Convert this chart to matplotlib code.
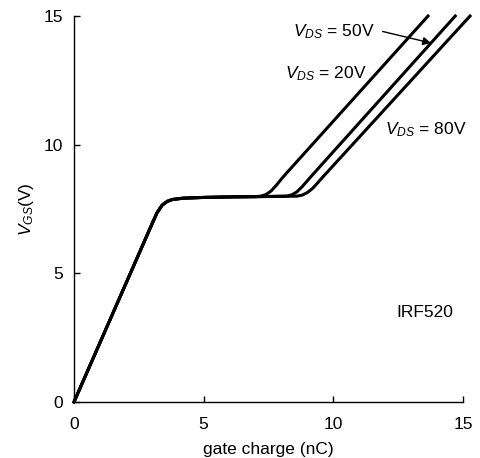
import matplotlib
matplotlib.use("Agg")
import matplotlib.pyplot as plt

plt.rcParams["font.family"] = ["Liberation Sans", "DejaVu Sans"]
plt.rcParams["mathtext.fontset"] = "custom"
plt.rcParams["mathtext.it"] = "Liberation Sans:italic"
plt.rcParams["mathtext.rm"] = "Liberation Sans"

# gate charge (nC) vs V_GS (V)
rise_q = [0.0, 1.0, 2.0, 3.0, 3.2, 3.4, 3.6, 3.8, 4.2, 5.0, 6.0, 7.0]
rise_v = [0.0, 2.3, 4.6, 6.9, 7.35, 7.65, 7.8, 7.87, 7.92, 7.95, 7.97, 7.98]

q_20v = rise_q + [7.2, 7.4, 7.6, 7.8, 8.0, 8.2, 13.65]
v_20v = rise_v + [8.0, 8.06, 8.2, 8.42, 8.67, 8.9, 15.0]

q_50v = rise_q + [8.2, 8.4, 8.6, 8.8, 9.0, 9.2, 14.7]
v_50v = rise_v + [8.0, 8.05, 8.17, 8.37, 8.6, 8.83, 15.0]

q_80v = rise_q + [8.6, 8.8, 9.0, 9.2, 9.4, 9.6, 15.27]
v_80v = rise_v + [8.0, 8.04, 8.14, 8.3, 8.52, 8.75, 15.0]

ticks = [0, 5, 10, 15]

fig = plt.figure(figsize=(4.81, 4.58), dpi=100)
ax = fig.add_axes([0.1538, 0.1223, 0.8088, 0.8427])

for q, v in [(q_20v, v_20v), (q_50v, v_50v), (q_80v, v_80v)]:
    # the 80V curve runs slightly past the right edge in the original
    ax.plot(q, v, color="black", lw=2.2, solid_joinstyle="round", clip_on=False)

ax.set_xlim(0, 15)
ax.set_ylim(0, 15)
ax.set_xticks(ticks)
ax.set_yticks(ticks)
ax.spines["top"].set_visible(False)
ax.spines["right"].set_visible(False)
ax.spines["left"].set_linewidth(1.0)
ax.spines["bottom"].set_linewidth(1.0)
ax.tick_params(direction="in", length=4, width=1.0, labelsize=12.5)
ax.tick_params(axis="x", pad=11)
ax.tick_params(axis="y", pad=8)

ax.set_xlabel("gate charge (nC)", fontsize=12.5, labelpad=7)
ax.set_ylabel("$V_{GS}$(V)", fontsize=12.5, labelpad=5)

ax.text(8.45, 14.4, "$V_{DS}$ = 50V", fontsize=12.5, va="center")
ax.annotate("", xy=(13.77, 13.95), xytext=(11.9, 14.4),
            arrowprops=dict(arrowstyle="-|>", color="black", lw=1.0,
                            mutation_scale=12, shrinkA=0, shrinkB=0))
ax.text(8.14, 12.75, "$V_{DS}$ = 20V", fontsize=12.5, va="center")
ax.text(12.0, 10.6, "$V_{DS}$ = 80V", fontsize=12.5, va="center")
ax.text(12.42, 3.46, "IRF520", fontsize=12.5, va="center")

fig.savefig("out.png", dpi=100)
